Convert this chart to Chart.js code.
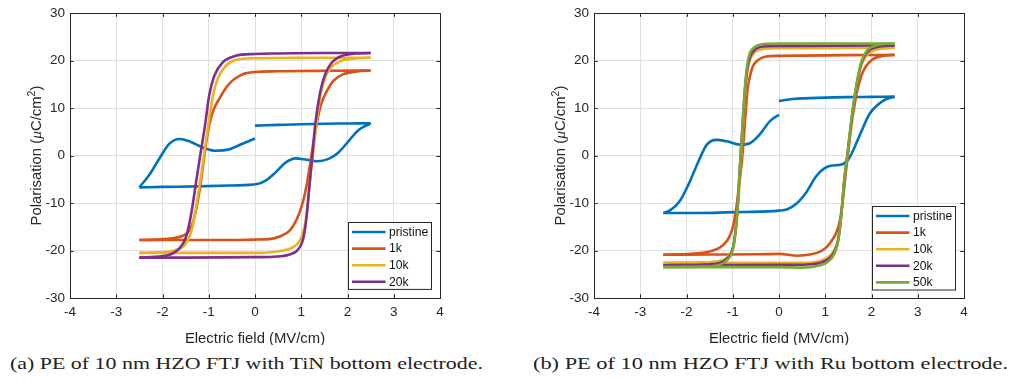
<!DOCTYPE html>
<html>
<head>
<meta charset="utf-8">
<script src="https://cdn.jsdelivr.net/npm/chart.js@4.4.1/dist/chart.umd.min.js"></script>
<style>
html, body { margin: 0; padding: 0; background: #fff; }
body { width: 1014px; height: 381px; position: relative; overflow: hidden; }
.box { position: absolute; top: 0; height: 345px; }
.cap { position: absolute; font-family: "Liberation Serif", "Times New Roman", serif; font-size: 16.6px; color: #222; white-space: nowrap; line-height: 1; transform-origin: 0 0; }
</style>
</head>
<body>
<div class="box" style="left:0;width:510px"><canvas id="tin"></canvas></div>
<div class="box" style="left:510px;width:504px"><canvas id="ru"></canvas></div>
<div class="cap" id="capA">(a) PE of 10 nm HZO FTJ with TiN bottom electrode.</div>
<div class="cap" id="capB">(b) PE of 10 nm HZO FTJ with Ru bottom electrode.</div>
<script>
// axis ticks
const xTicks = [-4, -3, -2, -1, 0, 1, 2, 3, 4];
const yTicks = [-30, -20, -10, 0, 10, 20, 30];

const seriesNamesTin = ['pristine', '1k', '10k', '20k'];
const seriesNamesRu = ['pristine', '1k', '10k', '20k', '50k'];
const seriesColors = ['#0072BD', '#D95319', '#EDB120', '#7E2F8E', '#77AC30'];

// ---- TiN bottom electrode, [E (MV/cm), P (uC/cm2)] ----
// pristine, in 3 pieces (each piece monotone in E)
const tinPristineTop = [[0, 6.3], [0.5, 6.45], [1, 6.6], [1.5, 6.7], [2, 6.75], [2.5, 6.8]];
const tinPristineDown = [[2.5, 6.8], [2.24, 5.4], [2.02, 3.0], [1.8, 0.6], [1.59, -0.7], [1.35, -1.2], [1.12, -0.9],
  [0.88, -0.6], [0.66, -1.5], [0.44, -3.6], [0.23, -5.3], [0.05, -6.0], [-0.5, -6.3], [-1.25, -6.5], [-2, -6.6], [-2.5, -6.7]];
const tinPristineUp = [[-2.5, -6.7], [-2.28, -4.0], [-2.06, -0.5], [-1.85, 2.5], [-1.63, 3.5], [-1.42, 3.0],
  [-1.13, 1.7], [-0.85, 1.0], [-0.56, 1.3], [-0.27, 2.5], [0, 3.6]];

const tin1kDown = [[2.5, 17.9], [1.5, 17.85], [0.5, 17.75], [0, 17.6], [-0.27, 17.1], [-0.56, 15.1], [-0.77, 12], [-0.92, 9.0],
  [-1.03, 4.4], [-1.11, -1.2], [-1.2, -7.4], [-1.31, -13], [-1.42, -15.8], [-1.56, -16.9], [-2, -17.6], [-2.5, -17.8]];
const tin1kUp = [[-2.5, -17.8], [-1.5, -17.8], [-0.5, -17.8], [0, -17.7], [0.3, -17.6], [0.55, -17.0], [0.75, -15.8],
  [0.9, -13.5], [1.03, -10], [1.13, -5.5], [1.22, 0], [1.32, 6], [1.42, 10.5], [1.55, 13.5], [1.7, 15.8], [1.9, 17.1], [2.2, 17.7], [2.5, 17.9]];

const tin10kDown = [[2.5, 20.6], [1.5, 20.6], [0.5, 20.55], [0, 20.5], [-0.42, 20.1], [-0.63, 18.9], [-0.81, 16.1], [-0.92, 12],
  [-1.03, 5.1], [-1.13, -1.9], [-1.24, -8.8], [-1.35, -15], [-1.49, -18.5], [-1.71, -19.9], [-2.06, -20.4], [-2.5, -20.5]];
const tin10kUp = [[-2.5, -20.5], [-1.5, -20.5], [0, -20.5], [0.4, -20.3], [0.7, -19.8], [0.87, -19], [1.0, -17.3], [1.1, -13.5],
  [1.18, -6], [1.25, 0], [1.32, 6], [1.4, 12], [1.5, 16], [1.63, 18.4], [1.85, 19.9], [2.1, 20.4], [2.5, 20.6]];

const tin20kDown = [[2.5, 21.6], [1.5, 21.6], [0.5, 21.5], [0, 21.4], [-0.42, 21.0], [-0.7, 19.6], [-0.88, 16.8], [-0.99, 12.7],
  [-1.08, 6.4], [-1.17, 0.9], [-1.28, -6], [-1.38, -12.3], [-1.49, -17.1], [-1.63, -19.5], [-1.85, -20.9], [-2.28, -21.4], [-2.5, -21.5]];
const tin20kUp = [[-2.5, -21.5], [-1.5, -21.5], [0, -21.4], [0.4, -21.3], [0.73, -20.9], [0.93, -19.8], [1.05, -17.2], [1.12, -12.5],
  [1.18, -6], [1.24, 0], [1.3, 6.4], [1.41, 13.4], [1.52, 17.2], [1.66, 19.6], [1.85, 20.9], [2.1, 21.4], [2.5, 21.6]];

// ---- Ru bottom electrode ----
const ruPristineTop = [[0, 11.5], [0.3, 11.9], [1, 12.2], [1.5, 12.3], [2, 12.35], [2.5, 12.4]];
const ruPristineDown = [[2.5, 12.4], [2.3, 11.8], [2.15, 10.8], [1.96, 8.8], [1.75, 4.4], [1.6, 1.0], [1.5, -0.8], [1.35, -1.9],
  [1.15, -2.1], [0.98, -2.7], [0.8, -4.4], [0.6, -7.6], [0.38, -10.1], [0.18, -11.3], [0, -11.6], [-0.8, -11.9], [-1.8, -12.1], [-2.5, -12.1]];
const ruPristineUp = [[-2.5, -12.1], [-2.35, -11.5], [-2.14, -9.5], [-1.92, -5.3], [-1.74, -1.2], [-1.56, 2.3], [-1.35, 3.3],
  [-1.13, 3.0], [-0.85, 2.3], [-0.63, 2.6], [-0.42, 4.4], [-0.2, 7.2], [0, 8.6]];

const ru1kDown = [[2.5, 21.2], [1.5, 21.15], [0.5, 21.05], [0, 21.0], [-0.3, 20.8], [-0.45, 20.1], [-0.56, 18.9], [-0.63, 16.6],
  [-0.68, 14], [-0.72, 9.2], [-0.76, 4], [-0.8, -1], [-0.86, -6], [-0.93, -11.5], [-1.01, -15.5], [-1.12, -17.9], [-1.28, -19.4],
  [-1.5, -20.2], [-1.9, -20.7], [-2.5, -20.9]];
const ru1kUp = [[-2.5, -20.9], [-1.5, -20.85], [-0.5, -20.8], [0, -20.7], [0.4, -21.1], [0.7, -20.8], [0.9, -20.2], [1.03, -19.3],
  [1.15, -17.8], [1.24, -16.2], [1.32, -13.5], [1.38, -9.5], [1.44, -4], [1.5, 1], [1.56, 6], [1.63, 10.5], [1.7, 14], [1.78, 16.8],
  [1.88, 18.8], [2.03, 20.3], [2.25, 21], [2.5, 21.2]];

const ru10kDown = [[2.5, 22.7], [1.5, 22.65], [0.5, 22.6], [0, 22.6], [-0.35, 22.4], [-0.5, 21.9], [-0.6, 20.8], [-0.67, 18.5],
  [-0.72, 14.5], [-0.76, 9], [-0.8, 3], [-0.84, -3], [-0.88, -10], [-0.93, -15.5], [-0.99, -19.2], [-1.1, -21.2], [-1.3, -22.2],
  [-1.7, -22.5], [-2.5, -22.6]];
const ru10kUp = [[-2.5, -22.6], [-1.5, -22.6], [0, -22.6], [0.5, -22.6], [0.85, -22.3], [1.05, -21.5], [1.2, -19.8], [1.28, -17.5],
  [1.35, -12], [1.41, -5.3], [1.48, 0.2], [1.55, 6], [1.62, 11.3], [1.7, 15.8], [1.78, 19], [1.9, 21.2], [2.1, 22.3], [2.5, 22.7]];

const ru20kDown = [[2.5, 23.2], [1.5, 23.15], [0.5, 23.1], [0, 23.1], [-0.38, 22.9], [-0.52, 22.3], [-0.61, 21.1], [-0.68, 18.7],
  [-0.73, 14.5], [-0.77, 9], [-0.81, 3], [-0.85, -3], [-0.89, -10], [-0.94, -15.8], [-1.0, -19.6], [-1.12, -21.7], [-1.32, -22.7],
  [-1.7, -23.0], [-2.5, -23.1]];
const ru20kUp = [[-2.5, -23.1], [-1.5, -23.05], [0, -23.0], [0.5, -23.0], [0.85, -22.7], [1.05, -21.9], [1.2, -20.2], [1.28, -17.8],
  [1.35, -12.2], [1.41, -5.3], [1.48, 0.2], [1.55, 6], [1.62, 11.3], [1.7, 16], [1.78, 19.4], [1.9, 21.7], [2.1, 22.8], [2.5, 23.2]];

const ru50kDown = [[2.5, 23.6], [1.5, 23.6], [0.5, 23.6], [0, 23.6], [-0.4, 23.4], [-0.53, 22.8], [-0.63, 21.6], [-0.69, 19],
  [-0.73, 15], [-0.77, 9.5], [-0.81, 3], [-0.85, -3], [-0.89, -10], [-0.94, -16], [-1.0, -19.9], [-1.12, -22], [-1.32, -23.1],
  [-1.7, -23.4], [-2.5, -23.5]];
const ru50kUp = [[-2.5, -23.5], [-1.5, -23.5], [0, -23.5], [0.5, -23.6], [0.85, -23.2], [1.05, -22.4], [1.2, -20.6], [1.28, -18],
  [1.35, -12.3], [1.41, -5.3], [1.48, 0.2], [1.55, 6.3], [1.62, 11.5], [1.7, 16.3], [1.78, 19.8], [1.9, 22.1], [2.1, 23.2], [2.5, 23.6]];

const tinSeries = [
  [tinPristineTop, tinPristineDown, tinPristineUp],
  [tin1kDown, tin1kUp],
  [tin10kDown, tin10kUp],
  [tin20kDown, tin20kUp]
];
const ruSeries = [
  [ruPristineTop, ruPristineDown, ruPristineUp],
  [ru1kDown, ru1kUp],
  [ru10kDown, ru10kUp],
  [ru20kDown, ru20kUp],
  [ru50kDown, ru50kUp]
];

const AXIS = '#262626';
const SANS = '"Liberation Sans", Arial, sans-serif';

function drawYTitle(ctx, xBase, yMid) {
  const parts = [
    { t: 'Polarisation (', f: '14.85px ' + SANS, dy: 0 },
    { t: '\u03bc', f: 'italic 15.5px "Liberation Serif", serif', dy: 0 },
    { t: 'C/cm', f: '14.85px ' + SANS, dy: 0 },
    { t: '2', f: '10.5px ' + SANS, dy: -6 },
    { t: ')', f: '14.85px ' + SANS, dy: 0 }
  ];
  let total = 0;
  parts.forEach(p => { ctx.font = p.f; p.w = ctx.measureText(p.t).width; total += p.w; });
  ctx.save();
  ctx.translate(xBase, yMid);
  ctx.rotate(-Math.PI / 2);
  ctx.fillStyle = AXIS;
  ctx.textBaseline = 'alphabetic';
  ctx.textAlign = 'left';
  let x = -total / 2;
  parts.forEach(p => { ctx.font = p.f; ctx.fillText(p.t, x, p.dy); x += p.w; });
  ctx.restore();
}

// box, inner ticks, axis titles and the legend
const figDecor = {
  id: 'figDecor',
  afterDraw(chart, args, opts) {
    const ctx = chart.ctx;
    const a = chart.chartArea;
    const xs = chart.scales.x, ys = chart.scales.y;
    ctx.save();
    ctx.strokeStyle = AXIS;
    ctx.lineWidth = 1;
    ctx.beginPath();
    ctx.rect(Math.round(a.left) + 0.5, Math.round(a.top) + 0.5, Math.round(a.right - a.left), Math.round(a.bottom - a.top));
    const tl = 3.7;
    xTicks.forEach(v => {
      const px = Math.round(xs.getPixelForValue(v)) + 0.5;
      ctx.moveTo(px, a.bottom); ctx.lineTo(px, a.bottom - tl);
      ctx.moveTo(px, a.top); ctx.lineTo(px, a.top + tl);
    });
    yTicks.forEach(v => {
      const py = Math.round(ys.getPixelForValue(v)) + 0.5;
      ctx.moveTo(a.left, py); ctx.lineTo(a.left + tl, py);
      ctx.moveTo(a.right, py); ctx.lineTo(a.right - tl, py);
    });
    ctx.stroke();

    // x title
    ctx.fillStyle = AXIS;
    ctx.font = '14.85px ' + SANS;
    ctx.textAlign = 'center';
    ctx.textBaseline = 'alphabetic';
    ctx.fillText('Electric field (MV/cm)', (a.left + a.right) / 2, 342.5);
    drawYTitle(ctx, a.left - 29.5, (a.top + a.bottom) / 2);

    // legend box in the lower right corner
    const names = opts.names;
    const rowH = 16.6;
    const w = 83, h = names.length * rowH + 0.5;
    const bx = Math.round(a.right - 9.5 - w) + 0.5;
    const by = Math.round(a.bottom - 9 - h) + 0.5;
    ctx.fillStyle = '#fff';
    ctx.fillRect(bx, by, w, h);
    ctx.strokeStyle = AXIS;
    ctx.strokeRect(bx, by, w, h);
    ctx.font = '12.15px ' + SANS;
    ctx.textAlign = 'left';
    ctx.textBaseline = 'middle';
    names.forEach((n, i) => {
      const cy = by + 9.5 + i * rowH;
      ctx.strokeStyle = seriesColors[i];
      ctx.lineWidth = 2.6;
      ctx.beginPath();
      ctx.moveTo(bx + 3.5, cy); ctx.lineTo(bx + 37, cy);
      ctx.stroke();
      ctx.fillStyle = '#111';
      ctx.fillText(n, bx + 40.5, cy + 0.5);
    });
    ctx.restore();
  }
};

function makeChart(id, series, names, padLeft, padRight) {
  const datasets = [];
  series.forEach((branches, i) => {
    branches.forEach(b => {
      datasets.push({
        data: b.map(p => ({ x: p[0], y: p[1] })),
        borderColor: seriesColors[i],
        borderWidth: 2.6,
        pointRadius: 0,
        showLine: true,
        tension: 0.4,
        cubicInterpolationMode: 'monotone',
        order: series.length - i
      });
    });
  });
  return new Chart(document.getElementById(id), {
    type: 'scatter',
    data: { datasets: datasets },
    options: {
      responsive: true,
      maintainAspectRatio: false,
      animation: false,
      devicePixelRatio: 1,
      events: [],
      layout: { padding: { left: padLeft, right: padRight, top: 10, bottom: 0 } },
      scales: {
        x: {
          type: 'linear', min: -4, max: 4,
          afterBuildTicks: s => { s.ticks = xTicks.map(v => ({ value: v })); },
          afterFit: s => { s.height = 47; },
          ticks: { color: AXIS, padding: 6, font: { family: SANS, size: 13.5 }, autoSkip: false, maxRotation: 0 },
          grid: { color: '#e0e0e0', drawTicks: false },
          border: { color: AXIS }
        },
        y: {
          type: 'linear', min: -30, max: 30,
          afterBuildTicks: s => { s.ticks = yTicks.map(v => ({ value: v })); },
          afterFit: s => { s.width = 60; },
          ticks: { color: AXIS, padding: 5, font: { family: SANS, size: 13.5 } },
          grid: { color: '#e0e0e0', drawTicks: false },
          border: { color: AXIS }
        }
      },
      plugins: {
        legend: { display: false },
        tooltip: { enabled: false },
        figDecor: { names: names }
      }
    },
    plugins: [figDecor]
  });
}

makeChart('tin', tinSeries, seriesNamesTin, 10, 70);
makeChart('ru', ruSeries, seriesNamesRu, 24, 50);

// captions: Times-like glyphs widened to the span of the original (Computer Modern) ones
function fitCaption(id, left, right, base) {
  const el = document.getElementById(id);
  const w = el.getBoundingClientRect().width;
  el.style.transform = 'scaleX(' + ((right - left) / w) + ')';
  el.style.left = left + 'px';
  el.style.top = (base - 0.8375 * 16.6) + 'px';
}
fitCaption('capA', 10, 483, 369.5);
fitCaption('capB', 533, 1008, 369.5);
</script>
</body>
</html>
